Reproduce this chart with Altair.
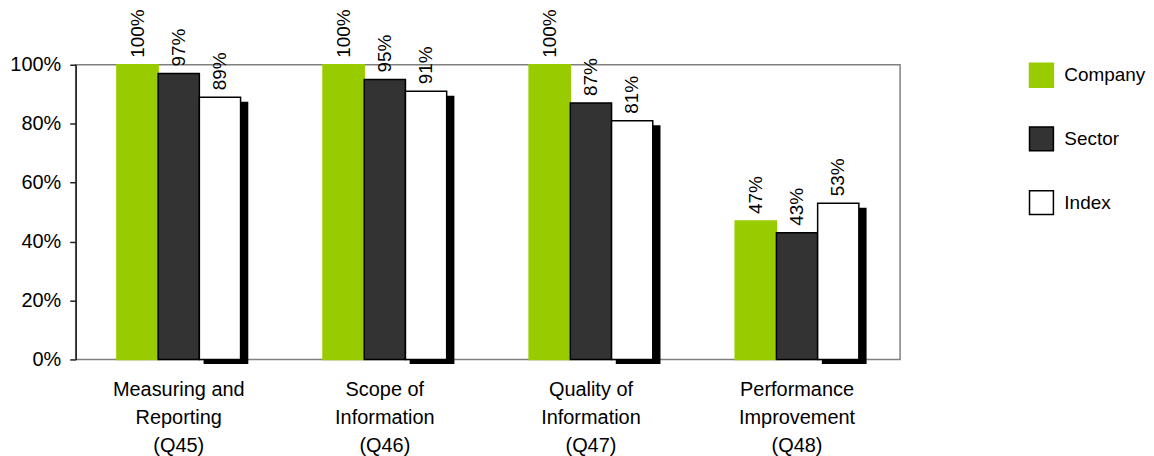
import altair as alt
import pandas as pd

categories = [
    "Measuring and|Reporting|(Q45)",
    "Scope of|Information|(Q46)",
    "Quality of|Information|(Q47)",
    "Performance|Improvement|(Q48)",
]
series = ["Company", "Sector", "Index"]
company = [100, 100, 100, 47]
sector = [97, 95, 87, 43]
index_vals = [89, 91, 81, 53]
fills = ["#99CC00", "#333333", "#FFFFFF"]
strokes = ["#99CC00", "#000000", "#000000"]
y_ticks = [0, 20, 40, 60, 80, 100]

SEP = "::"
rows = []
for s, vals in zip(series, [company, sector, index_vals]):
    for c, v in zip(categories, vals):
        rows.append({"category": c, "series": s, "key": c + SEP + s, "value": v})
df = pd.DataFrame(rows)

# band domain: three slots per group plus two empty gap slots between groups
key_domain = []
for i, c in enumerate(categories):
    key_domain += [c + SEP + s for s in series]
    if i < len(categories) - 1:
        key_domain += ["gap%da" % i, "gap%db" % i]

FONT = "Liberation Sans"

x_enc = alt.X(
    "key:N",
    scale=alt.Scale(domain=key_domain, paddingInner=0, paddingOuter=1),
    axis=alt.Axis(
        title=None, labelAngle=0, ticks=False, domain=False, labelOverlap=False,
        labelExpr="indexof(datum.label, '::Sector') >= 0 ? split(replace(datum.label, '::Sector', ''), '|') : ''",
        labelFontSize=20, labelLineHeight=28, labelBaseline="top",
        labelPadding=20, labelColor="black", labelFont=FONT, labelLimit=400,
    ),
)
y_enc = alt.Y(
    "value:Q",
    scale=alt.Scale(domain=[0, 100]),
    axis=alt.Axis(
        title=None, values=y_ticks, labelExpr="datum.value + '%'",
        grid=False, tickSize=6, tickColor="#222222", tickWidth=1.5,
        domainColor="#222222", domainWidth=1.5,
        labelFontSize=20, labelPadding=9, labelColor="black", labelFont=FONT,
    ),
)

legend_kw = dict(
    title=None, orient="none", legendX=957, legendY=-2.5,
    symbolType="square", symbolSize=576, symbolStrokeWidth=1.5,
    rowPadding=34, labelOffset=10, labelFontSize=19, labelFont=FONT,
    labelColor="black", padding=0, symbolOpacity=1,
)

base = alt.Chart(df)

shadow = base.transform_filter(alt.datum.series == "Index").mark_bar(
    color="black", width=alt.RelativeBandSize(1.085), xOffset=6, yOffset=4.5, y2Offset=4.5
).encode(x=x_enc, y=y_enc)

bars = base.mark_bar(strokeWidth=1.5).encode(
    x=x_enc,
    y=y_enc,
    fill=alt.Fill("series:N", sort=series, scale=alt.Scale(domain=series, range=fills),
                  legend=alt.Legend(**legend_kw)),
    stroke=alt.Stroke("series:N", sort=series, scale=alt.Scale(domain=series, range=strokes),
                      legend=alt.Legend(**legend_kw)),
)

labels = base.transform_calculate(label="datum.value + '%'").mark_text(
    angle=270, align="left", baseline="middle", dx=7, fontSize=19, font=FONT, color="black"
).encode(x=x_enc, y=y_enc, text="label:N")

chart = (
    alt.layer(shadow, bars, labels)
    .properties(width=828, height=296,
                padding={"left": 1, "top": 0, "right": 0, "bottom": 0})
    .configure(font=FONT)
    .configure_view(stroke="#808080", strokeWidth=1.5)
)

chart.save("out.html", embed_options={"renderer": "svg", "actions": False})
